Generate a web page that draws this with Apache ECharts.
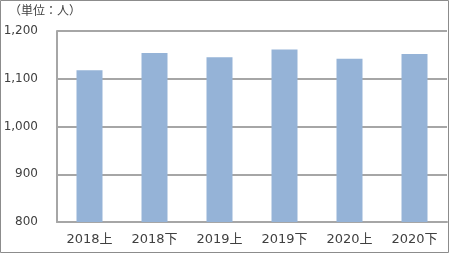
<!DOCTYPE html>
<html><head><meta charset="utf-8">
<script src="https://cdn.jsdelivr.net/npm/echarts@6/dist/echarts.min.js"></script>
<style>html,body{margin:0;padding:0;background:#fff}#c{width:450px;height:254px}</style>
</head><body><div id="c"></div>
<script>
const categories = ['2018上','2018下','2019上','2019下','2020上','2020下'];
const values = [1118, 1154, 1145, 1161, 1142, 1152];
const unitLabel = '（単位：人）';
const yMin = 800, yMax = 1200, yStep = 100;

const chart = echarts.init(document.getElementById('c'), null, {renderer:'canvas'});
const font = '"DejaVu Sans", "Noto Sans CJK JP", sans-serif';
const cjk = '"Noto Sans CJK JP", sans-serif';
chart.setOption({
  animation: false,
  backgroundColor: '#fff',
  graphic: [
    {type:'rect', shape:{x:0.5,y:0.5,width:448,height:252}, style:{fill:'none', stroke:'#8c8c8c', lineWidth:1}},
    {type:'text', left: 9, top: 4, style:{text: unitLabel, font: '12px ' + cjk, fill:'#404040'}}
  ],
  grid: {left: 57, right: 3, top: 31, bottom: 32, containLabel: false},
  xAxis: {
    type:'category', data: categories,
    axisLine:{show:true, lineStyle:{color:'#a6a6a6', width:2}},
    axisTick:{show:false},
    axisLabel:{color:'#404040', fontSize:13, fontFamily: font, margin: 11}
  },
  yAxis: {
    type:'value', min:yMin, max:yMax, interval:yStep,
    axisLine:{show:true, lineStyle:{color:'#a6a6a6', width:2}},
    axisTick:{show:false},
    splitLine:{show:true, lineStyle:{color:'#a6a6a6', width:2}},
    axisLabel:{color:'#404040', fontSize:12, fontFamily: font, margin: 19,
      formatter: v => v.toLocaleString('en-US')}
  },
  series: [{
    type:'bar', data: values, barWidth: 26,
    itemStyle:{color:'#95b3d7'}
  }]
});
</script></body></html>
